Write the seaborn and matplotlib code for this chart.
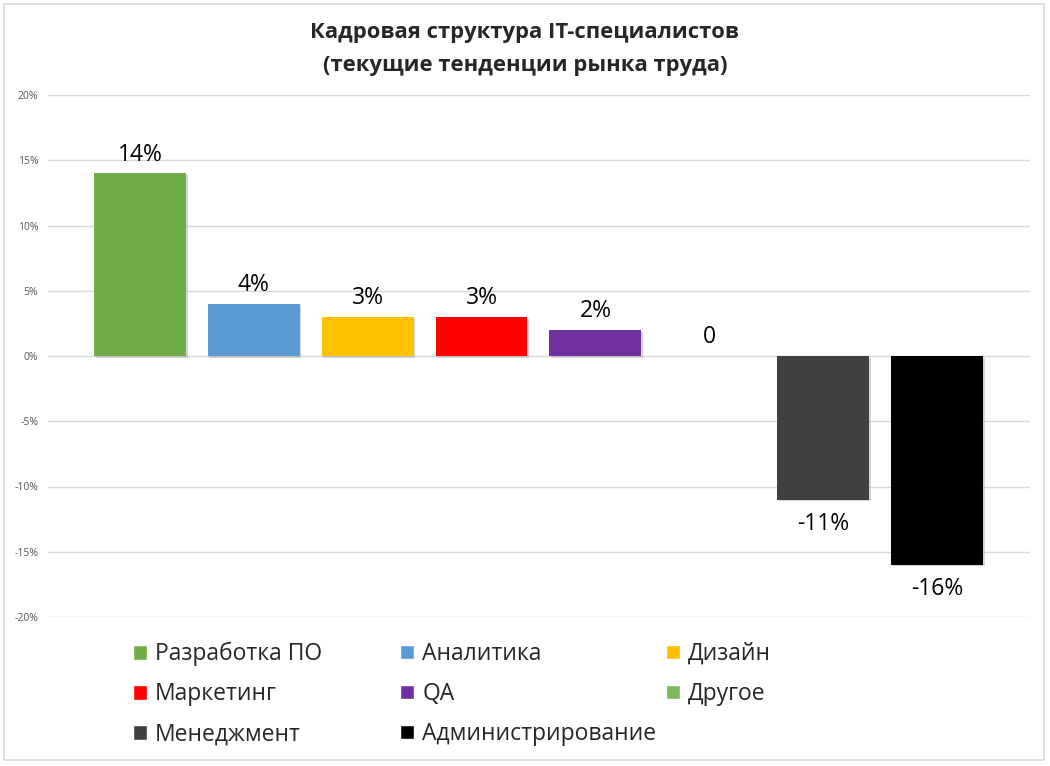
import seaborn as sns
import matplotlib.pyplot as plt
import matplotlib.patheffects as pe
from matplotlib.patches import Patch, Rectangle
from matplotlib.ticker import PercentFormatter

categories = ["Разработка ПО", "Аналитика", "Дизайн", "Маркетинг", "QA",
              "Другое", "Менеджмент", "Администрирование"]
values = [14, 4, 3, 3, 2, 0, -11, -16]
value_labels = ["14%", "4%", "3%", "3%", "2%", "0", "-11%", "-16%"]
bar_colors = ["#70AD47", "#5B9BD5", "#FFC000", "#FF0000", "#7030A0",
              "#FFFFFF", "#404040", "#000000"]
legend_colors = ["#70AD47", "#5B9BD5", "#FFC000", "#FF0000", "#7030A0",
                 "#7DB95B", "#404040", "#000000"]
yticks = [-20, -15, -10, -5, 0, 5, 10, 15, 20]

sns.set_style("white")
plt.rcParams["font.family"] = ["Open Sans", "DejaVu Sans"]
plt.rcParams["axes.unicode_minus"] = False

fig = plt.figure(figsize=(10.5, 7.66), dpi=100)
ax = fig.add_axes([48 / 1050, 1 - 617 / 766, 982 / 1050, 522 / 766])

sns.barplot(x=categories, y=values, hue=categories, palette=bar_colors,
            order=categories, hue_order=categories, dodge=False,
            width=0.807, legend=False, saturation=1, ax=ax)

shadow = [pe.SimplePatchShadow(offset=(1.2, -1.2), shadow_rgbFace="#8c8c8c", alpha=0.35),
          pe.Normal()]
for p in ax.patches:
    p.set_path_effects(shadow)
    p.set_linewidth(0)

for i, (v, lab) in enumerate(zip(values, value_labels)):
    off = 13.5 if v >= 0 else -17.5
    ax.annotate(lab, (i, v), xytext=(0, off), textcoords="offset points",
                ha="center", va="center", fontsize=16.5, color="#000000")

ax.set_ylim(-20, 20)
ax.set_xlim(-0.807, 7.816)
ax.set_yticks(yticks)
ax.yaxis.set_major_formatter(PercentFormatter(decimals=0))
ax.tick_params(axis="y", labelsize=7.5, labelcolor="#595959", length=0, pad=7)
ax.set_xticks([])
ax.grid(axis="y", color="#D9D9D9", linewidth=1)
ax.set_axisbelow(True)
for s in ax.spines.values():
    s.set_visible(False)

fig.text(0.5, 1 - 49 / 766, "Кадровая структура IT-специалистов\n(текущие тенденции рынка труда)",
         ha="center", va="center", fontsize=15.8, fontweight="bold", linespacing=1.75)

# legend laid out in three equal-width columns, filled row by row
columns = [[0, 3, 6], [1, 4, 7], [2, 5]]
col_x = [133, 400, 666]
for idx, x in zip(columns, col_x):
    handles = [Patch(facecolor=legend_colors[k], label=categories[k]) for k in idx]
    fig.legend(handles=handles, loc="upper left", bbox_to_anchor=(x / 1050, 1 - 642 / 766),
               frameon=False, fontsize=16.5, handlelength=0.62, handleheight=0.62,
               handletextpad=0.35, labelspacing=0.7, borderpad=0, borderaxespad=0)

fig.add_artist(Rectangle((4 / 1050, 6 / 766), 1040 / 1050, 756 / 766,
                         transform=fig.transFigure, fill=False,
                         edgecolor="#D9D9D9", linewidth=1.2))

fig.savefig("out.png", dpi=100, facecolor="white")
